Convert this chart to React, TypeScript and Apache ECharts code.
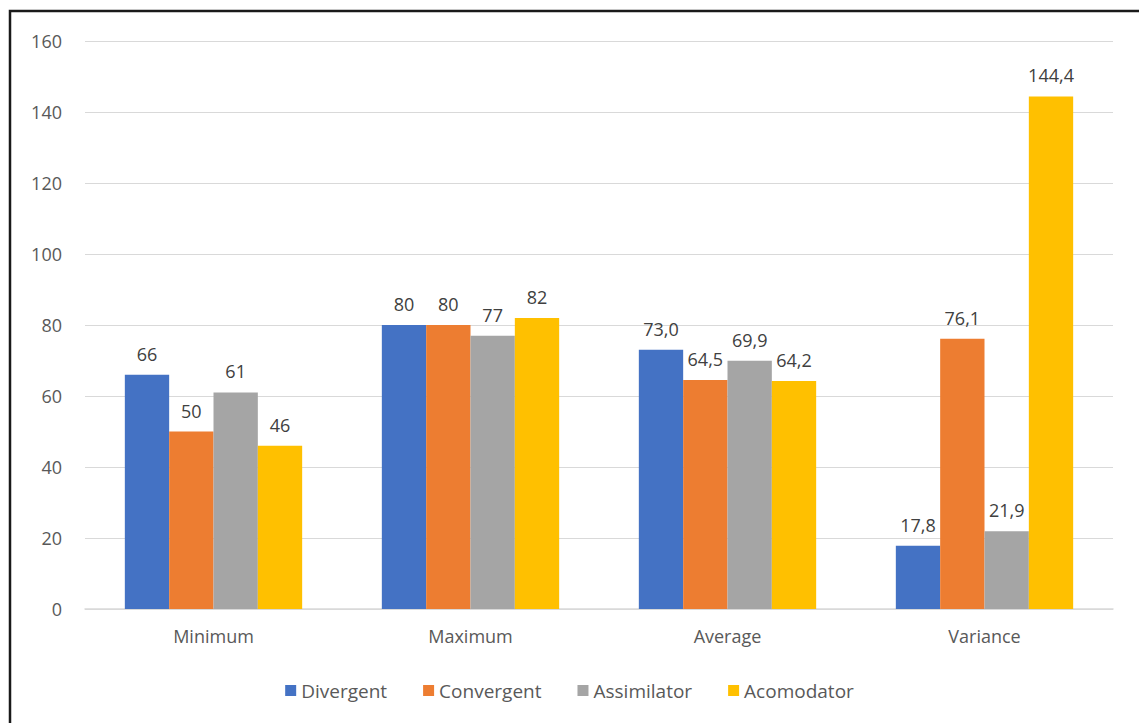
import React, { useEffect, useRef } from "react";
import * as echarts from "echarts";

const categories = ["Minimum", "Maximum", "Average", "Variance"];
const seriesNames = ["Divergent", "Convergent", "Assimilator", "Acomodator"];
const divergent = [66, 80, 73.0, 17.8];
const convergent = [50, 80, 64.5, 76.1];
const assimilator = [61, 77, 69.9, 21.9];
const acomodator = [46, 82, 64.2, 144.4];
const decimalsPerCategory = [0, 0, 1, 1];
const colors = ["#4472C4", "#ED7D31", "#A5A5A5", "#FFC000"];
const yTicks = { min: 0, max: 160, interval: 20 };

const FONT = "'Open Sans', 'Noto Sans', sans-serif";

export default function App() {
  const ref = useRef<HTMLDivElement>(null);
  useEffect(() => {
    if (!ref.current) return;
    const chart = echarts.init(ref.current, undefined, { renderer: "svg" });
    const allData = [divergent, convergent, assimilator, acomodator];
    chart.setOption({
      animation: false,
      backgroundColor: "#ffffff",
      textStyle: { fontFamily: FONT },
      graphic: [
        {
          type: "rect",
          shape: { x: 10, y: 11, width: 1300, height: 900 },
          style: { fill: "none", stroke: "#1a1a1a", lineWidth: 2.5 },
          z: 100,
        },
      ],
      grid: { left: 85, right: 26, top: 41, bottom: 114, containLabel: false },
      legend: {
        data: seriesNames,
        top: 676,
        left: "center",
        icon: "rect",
        itemWidth: 11,
        itemHeight: 11,
        itemGap: 36,
        textStyle: { fontSize: 19, color: "#595959", fontFamily: FONT },
      },
      xAxis: {
        type: "category",
        data: categories,
        axisLine: { lineStyle: { color: "#d9d9d9", width: 1.5 } },
        axisTick: { show: false },
        axisLabel: { fontSize: 18, color: "#595959", margin: 18, fontFamily: FONT },
      },
      yAxis: {
        type: "value",
        min: yTicks.min,
        max: yTicks.max,
        interval: yTicks.interval,
        axisLine: { show: false },
        axisTick: { show: false },
        splitLine: { lineStyle: { color: "#d9d9d9", width: 1 } },
        axisLabel: { fontSize: 18, color: "#595959", margin: 23, fontFamily: FONT },
      },
      series: seriesNames.map((name, i) => ({
        name,
        type: "bar",
        data: allData[i],
        barGap: "0%",
        barCategoryGap: "31%",
        itemStyle: { color: colors[i] },
        label: {
          show: true,
          position: "top",
          distance: 12,
          fontSize: 18,
          color: "#404040",
          fontFamily: FONT,
          formatter: (p: any) =>
            Number(p.value).toFixed(decimalsPerCategory[p.dataIndex]).replace(".", ","),
        },
      })),
    });
    return () => chart.dispose();
  }, []);
  return (
    <div
      ref={ref}
      style={{ position: "fixed", left: 0, top: 0, width: 1139, height: 723 }}
    />
  );
}
